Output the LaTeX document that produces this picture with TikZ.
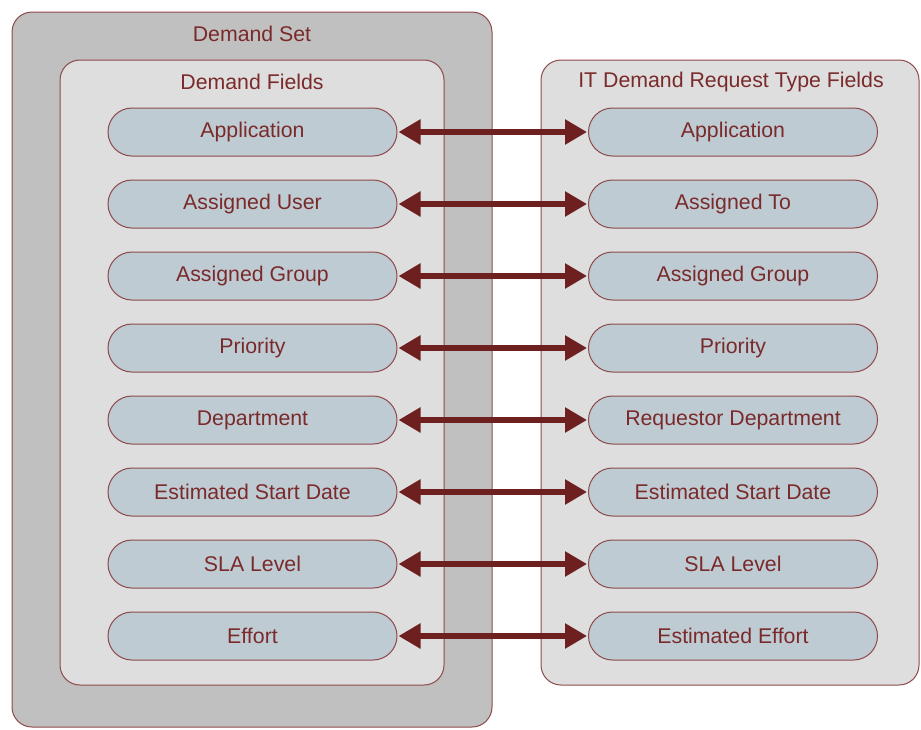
\documentclass[tikz,border=0pt]{standalone}
\usepackage{fontspec}
\setmainfont{Liberation Sans}
\usetikzlibrary{arrows.meta,shapes.misc}
\definecolor{txt}{HTML}{7A2A2A}
\definecolor{strk}{HTML}{8E4A4A}
\definecolor{arr}{HTML}{6E1F1F}
\definecolor{outerfill}{HTML}{C0C0C0}
\definecolor{innerfill}{HTML}{DEDEDE}
\definecolor{pillfill}{HTML}{BECBD3}
\begin{document}
\begin{tikzpicture}[x=1pt,y=-1pt,
  every node/.style={font=\fontsize{21.3}{25}\selectfont, text=txt},
  box/.style={draw=strk, line width=1pt, rounded corners=20pt},
  pill/.style={draw=strk, line width=1pt, fill=pillfill, rounded rectangle, minimum width=289pt, minimum height=48pt, inner sep=0pt},
  link/.style={draw=arr, line width=5.5pt, {Triangle[length=22pt,width=24pt]}-{Triangle[length=22pt,width=24pt]}, shorten <=1pt, shorten >=1pt}
]
\useasboundingbox (0,0) rectangle (921,729);
\draw[box, fill=outerfill] (12,12) rectangle (492,727);
\draw[box, fill=innerfill] (60,60) rectangle (444,685);
\draw[box, fill=innerfill] (541,60) rectangle (919,685);
\node (ds) at (252,34) {Demand Set};
\node (df) at (252,82) {Demand Fields};
\node (it) at (731,82) {IT Demand Request Type Fields};
\foreach \i/\l/\r in {0/Application/Application,
  1/Assigned User/Assigned To,
  2/Assigned Group/Assigned Group,
  3/Priority/Priority,
  4/Department/Requestor Department,
  5/Estimated Start Date/Estimated Start Date,
  6/SLA Level/SLA Level,
  7/Effort/Estimated Effort}{
  \node[pill] (L\i) at (252.5,132+72*\i) {\l};
  \node[pill] (R\i) at (733,132+72*\i) {\r};
  \draw[link] (L\i.east) -- (R\i.west);
}
\end{tikzpicture}
\end{document}
